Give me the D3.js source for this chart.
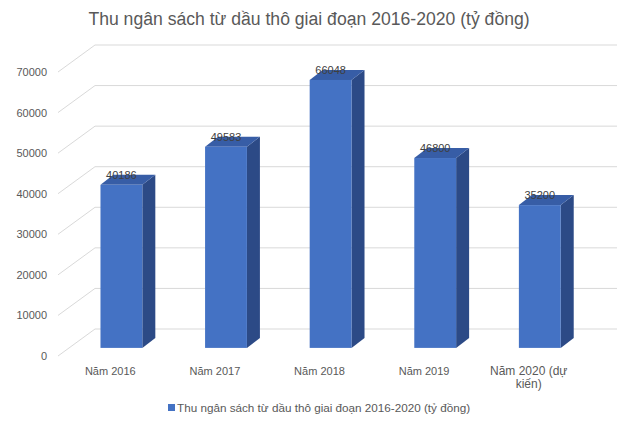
<!DOCTYPE html>
<html>
<head>
<meta charset="utf-8">
<script src="https://cdn.jsdelivr.net/npm/d3@7"></script>
<style>
    body { margin: 0; background: #fff; }
    text { font-family: "Liberation Sans", Arial, sans-serif; }
</style>
</head>
<body>
<svg id="chart" width="640" height="426"></svg>
<script>
const categories = ["Năm 2016", "Năm 2017", "Năm 2018", "Năm 2019", "Năm 2020 (dự kiến)"];
const categoryLines = [["Năm 2016"], ["Năm 2017"], ["Năm 2018"], ["Năm 2019"], ["Năm 2020 (dự", "kiến)"]];
const revenue = [40186, 49583, 66048, 46800, 35200];
const yTicks = [0, 10000, 20000, 30000, 40000, 50000, 60000, 70000];
const seriesName = "Thu ngân sách từ dầu thô giai đoạn 2016-2020 (tỷ đồng)";
const chartTitle = "Thu ngân sách từ dầu thô giai đoạn 2016-2020 (tỷ đồng)";

const svg = d3.select("#chart");

//  3d box: front floor edge, and a depth vector toward the back wall
const depth = {dx: 37, dy: -27};
const barDepth = {dx: 13, dy: -10};
const barFrac = 0.3;        //  where the bar front sits inside the depth

const y = d3.scaleLinear().domain([0, 70000]).range([356, 72]);
const x = d3.scaleBand().domain(categories).range([58, 581]).padding(0);
const barW = x.bandwidth() * 0.4;

const grid = svg.append("g");

//  side-wall diagonals and back-wall lines
grid.selectAll("line.side")
    .data(yTicks)
    .join("line")
    .attr("class", "side")
    .attr("x1", 58).attr("y1", d => y(d))
    .attr("x2", 58 + depth.dx).attr("y2", d => y(d) + depth.dy)
    .attr("stroke", "#d9d9d9").attr("stroke-width", 1);

grid.selectAll("line.back")
    .data(yTicks)
    .join("line")
    .attr("class", "back")
    .attr("x1", 58 + depth.dx).attr("y1", d => y(d) + depth.dy)
    .attr("x2", 617).attr("y2", d => y(d) + depth.dy)
    .attr("stroke", "#d9d9d9").attr("stroke-width", 1);

//  y tick labels
svg.append("g").selectAll("text")
    .data(yTicks)
    .join("text")
    .attr("x", 47)
    .attr("y", d => y(d) + 4)
    .attr("text-anchor", "end")
    .attr("font-size", 11)
    .attr("fill", "#595959")
    .text(d => d);

//  bars
const offX = depth.dx * barFrac, offY = depth.dy * barFrac;
const bars = revenue.map((v, i) => {
    const cx = x(categories[i]) + x.bandwidth() / 2 + offX;
    return {
        v: v,
        x0: cx - barW / 2,
        x1: cx + barW / 2,
        top: y(v) + offY,
        bottom: y(0) + offY
    };
});

const barG = svg.append("g").selectAll("g")
    .data(bars)
    .join("g");

barG.append("path")
    .attr("d", d => {
        const p = d3.path();
        p.moveTo(d.x1, d.top);
        p.lineTo(d.x1 + barDepth.dx, d.top + barDepth.dy);
        p.lineTo(d.x1 + barDepth.dx, d.bottom + barDepth.dy);
        p.lineTo(d.x1, d.bottom);
        p.closePath();
        return p.toString();
    })
    .attr("fill", "#2c4a86");

barG.append("path")
    .attr("d", d => {
        const p = d3.path();
        p.moveTo(d.x0, d.top);
        p.lineTo(d.x0 + barDepth.dx, d.top + barDepth.dy);
        p.lineTo(d.x1 + barDepth.dx, d.top + barDepth.dy);
        p.lineTo(d.x1, d.top);
        p.closePath();
        return p.toString();
    })
    .attr("fill", "#375da6");

barG.append("rect")
    .attr("x", d => d.x0)
    .attr("y", d => d.top)
    .attr("width", barW)
    .attr("height", d => d.bottom - d.top)
    .attr("fill", "#4472c4");

barG.append("text")
    .attr("x", d => (d.x0 + d.x1) / 2)
    .attr("y", d => d.top - 6)
    .attr("text-anchor", "middle")
    .attr("font-size", 11)
    .attr("fill", "#404040")
    .text(d => d.v);

//  category labels at the front floor edge
svg.append("g").selectAll("text")
    .data(categories)
    .join("text")
    .attr("x", d => x(d) + x.bandwidth() / 2)
    .attr("y", 375)
    .attr("text-anchor", "middle")
    .attr("font-size", (d, i) => categoryLines[i].length > 1 ? 12 : 11)
    .attr("fill", "#595959")
    .each(function (d, i) {
        d3.select(this).selectAll("tspan")
            .data(categoryLines[i])
            .join("tspan")
            .attr("x", x(d) + x.bandwidth() / 2)
            .attr("dy", (t, j) => j === 0 ? 0 : 13)
            .text(t => t);
    });

//  title
svg.append("text")
    .attr("x", 309)
    .attr("y", 25)
    .attr("text-anchor", "middle")
    .attr("font-size", 17.6)
    .attr("fill", "#595959")
    .text(chartTitle);

//  legend
const leg = svg.append("g").attr("transform", "translate(168,404)");
leg.append("rect").attr("width", 7).attr("height", 7).attr("fill", "#4472c4");
leg.append("text")
    .attr("x", 9)
    .attr("y", 8)
    .attr("font-size", 11.7)
    .attr("fill", "#595959")
    .text(seriesName);
</script>
</body>
</html>
